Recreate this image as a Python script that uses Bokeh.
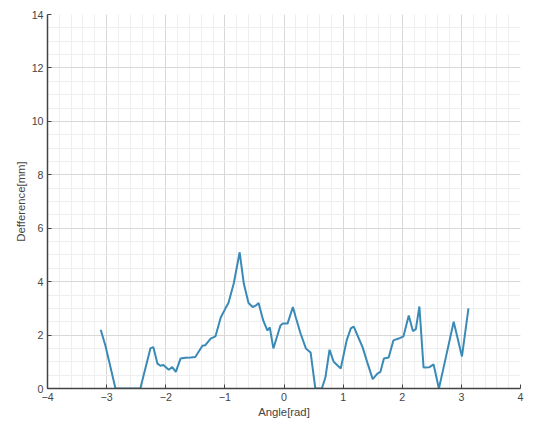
from bokeh.plotting import figure
from bokeh.models import Range1d, SingleIntervalTicker, ColumnDataSource
from bokeh.embed import file_html
from bokeh.resources import INLINE

angle = [-3.10, -3.02, -2.85, -2.43, -2.26, -2.21, -2.14, -2.09, -2.04, -1.95,
         -1.89, -1.83, -1.75, -1.67, -1.58, -1.50, -1.38, -1.33, -1.24, -1.16,
         -1.07, -0.99, -0.94, -0.85, -0.75, -0.68, -0.60, -0.53, -0.48, -0.43,
         -0.35, -0.28, -0.24, -0.18, -0.06, -0.02, 0.06, 0.15, 0.20, 0.28,
         0.37, 0.45, 0.53, 0.64, 0.70, 0.77, 0.84, 0.96, 1.06, 1.13,
         1.18, 1.26, 1.33, 1.41, 1.50, 1.58, 1.63, 1.69, 1.77, 1.85,
         1.94, 2.02, 2.11, 2.18, 2.23, 2.29, 2.36, 2.46, 2.53, 2.62,
         2.70, 2.87, 3.01, 3.12]
difference = [2.2, 1.6, 0.0, 0.0, 1.5, 1.55, 0.93, 0.85, 0.88, 0.7,
              0.8, 0.62, 1.12, 1.15, 1.16, 1.18, 1.6, 1.62, 1.87, 1.95,
              2.66, 3.0, 3.2, 3.93, 5.1, 3.93, 3.2, 3.05, 3.1, 3.2,
              2.54, 2.17, 2.29, 1.5, 2.36, 2.43, 2.43, 3.05, 2.66, 2.06,
              1.5, 1.35, 0.0, 0.0, 0.41, 1.45, 1.0, 0.75, 1.8, 2.25,
              2.32, 1.9, 1.54, 0.97, 0.35, 0.56, 0.62, 1.12, 1.16, 1.8,
              1.87, 1.95, 2.73, 2.15, 2.22, 3.07, 0.79, 0.8, 0.9, 0.0,
              0.79, 2.5, 1.2, 3.0]

src = ColumnDataSource(data=dict(x=angle, y=difference))

p = figure(width=535, height=421, output_backend="svg", toolbar_location=None,
           x_range=Range1d(-4, 4), y_range=Range1d(0, 14),
           min_border_left=47, min_border_right=15, min_border_top=14,
           min_border_bottom=33)
p.outline_line_color = None
p.background_fill_color = "white"

p.xaxis.ticker = SingleIntervalTicker(interval=1, num_minor_ticks=5)
p.yaxis.ticker = SingleIntervalTicker(interval=2, num_minor_ticks=4)

for ax in (p.xaxis, p.yaxis):
    ax.axis_line_color = "#444444"
    ax.axis_line_width = 1.5
    ax.major_tick_in = 4
    ax.major_tick_out = 0
    ax.major_tick_line_color = "#444444"
    ax.minor_tick_in = 0
    ax.minor_tick_out = 0
    ax.major_label_text_font = "Liberation Sans"
    ax.major_label_text_font_size = "8pt"
    ax.major_label_text_color = "#444444"
    ax.axis_label_text_font = "Liberation Sans"
    ax.axis_label_text_font_size = "8.5pt"
    ax.axis_label_text_font_style = "normal"
    ax.axis_label_text_color = "#444444"
    ax.major_label_standoff = 4
    ax.axis_label_standoff = 2

p.xaxis.axis_label = "Angle[rad]"
p.yaxis.axis_label = "Defference[mm]"

p.xgrid.grid_line_color = "#d8d8d8"
p.ygrid.grid_line_color = "#d8d8d8"
p.xgrid.minor_grid_line_color = "#eeeeee"
p.ygrid.minor_grid_line_color = "#eeeeee"

p.line("x", "y", source=src, line_color="#3a8ab8", line_width=2)

open("out.html", "w").write(file_html(p, INLINE))
